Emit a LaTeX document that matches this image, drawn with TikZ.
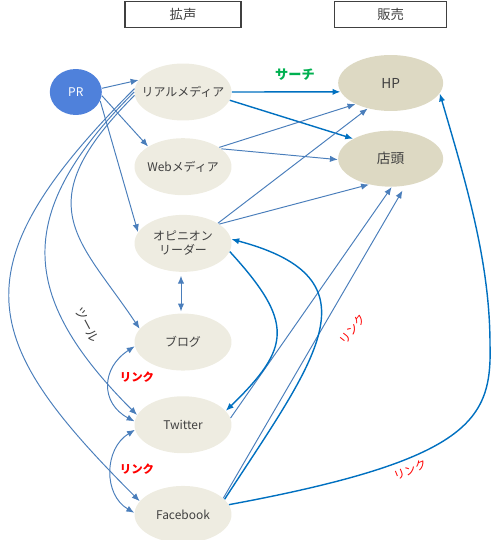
\documentclass[tikz,border=0pt]{standalone}
\usepackage{fontspec}
\setmainfont{Noto Sans CJK JP}
\usepackage{xcolor}
\usepackage{tikz}
\usetikzlibrary{shapes,arrows.meta,positioning}
\definecolor{prblue}{RGB}{79,129,219}
\definecolor{mediafill}{RGB}{238,236,225}
\definecolor{salesfill}{RGB}{221,217,195}
\definecolor{lineblue}{RGB}{74,126,187}
\definecolor{deepblue}{RGB}{0,112,192}
\definecolor{textgray}{RGB}{64,64,64}
\definecolor{searchgreen}{RGB}{0,176,80}
\definecolor{linkred}{RGB}{255,0,0}

\begin{document}
\begin{tikzpicture}[x=0.02cm, y=-0.02cm, font=\fontsize{6.8}{8}\selectfont,
    media/.style={ellipse, fill=mediafill, text=textgray, minimum width=1.94cm, minimum height=1.14cm, inner xsep=-8pt, inner ysep=0pt, align=center},
    sales/.style={ellipse, fill=salesfill, text=textgray, minimum width=2.1cm, minimum height=1.12cm, inner sep=0pt, font=\fontsize{7.8}{9}\selectfont},
    header/.style={rectangle, draw=textgray, line width=0.6pt, text=textgray, minimum height=0.52cm, font=\fontsize{7.6}{9}\selectfont},
    flow/.style={draw=lineblue, line width=0.55pt, -{Latex[length=4.5pt,width=3.6pt]}},
    twoway/.style={flow, {Latex[length=4.5pt,width=3.6pt]}-{Latex[length=4.5pt,width=3.6pt]}},
    strong/.style={flow, draw=deepblue, line width=0.8pt},
    linktext/.style={text=linkred, font=\fontsize{6.5}{8}\selectfont\bfseries}]
        \useasboundingbox (0,0) rectangle (492,540);

        \node[media] (real) at (183,92) {リアルメディア};
        \node[ellipse, fill=prblue, text=white, minimum width=1.04cm, minimum height=0.92cm, inner sep=0pt, left=0.64cm of real] (pr) {PR};
        \node[media, below=0.34cm of real] (web) {Webメディア};
        \node[media, below=0.38cm of web] (op) {オピニオン\\リーダー};
        \node[media, below=0.82cm of op] (blog) {ブログ};
        \node[media, below=0.5cm of blog] (tw) {Twitter};
        \node[media, below=0.64cm of tw] (fb) {Facebook};
        \node[sales, right=2.12cm of real, yshift=0.18cm] (hp) {HP};
        \node[sales, below=0.38cm of hp] (shop) {店頭};
        \node[header, minimum width=2.32cm, above=0.7cm of real] (spread) {拡声};
        \node[header, minimum width=2.24cm, above=0.54cm of hp] (sell) {販売};
        \coordinate (hpbend) at (490,345);

        \draw[flow] (pr.8) -- (real.165);
        \draw[flow] (pr.-8) -- (web.150);
        \draw[flow] (pr.-20) -- (op.166);
        \draw[flow] (real.176) .. controls +(-180,180) and +(-160,-160) .. (fb.163);
        \draw[flow] (real.180) .. controls +(-120,120) and +(-120,-120) .. (tw.168);
        \draw[flow] (real.184) .. controls +(-110,110) and +(-60,-90) .. (blog.163);

        \draw[strong] (real.east) -- (hp.190);
        \draw[strong] (real.-10) -- (shop.152);
        \draw[flow] (web.28) -- (hp.211);
        \draw[flow] (web.25) -- (shop.181);
        \draw[flow] (op.30) -- (hp.228);
        \draw[flow] (op.28) -- (shop.230);
        \draw[flow] (tw.8) -- (shop.272);
        \draw[flow, shorten >=3pt] (fb.22) -- (shop.-62);

        \draw[twoway, shorten <=2pt, shorten >=1pt] (op.266) -- (blog.94);
        \draw[twoway] (blog.185) .. controls +(-34,22) and +(-34,-18) .. (tw.176);
        \draw[twoway] (tw.186) .. controls +(-31,19) and +(-31,-18) .. (fb.178);

        \draw[strong] (op.-10) .. controls +(65,71) and +(65,-63) .. (tw.18);
        \draw[strong] (fb.20) .. controls +(91,-140) and +(150,40) .. (op.5);
        \draw[strong] (fb.12) .. controls (470,460) and (492,420) .. (hpbend) .. controls (490,260) and (465,180) .. (hp.-12);

        % labels
        \node[text=searchgreen, font=\fontsize{7.5}{9}\selectfont\bfseries] (search) at (295,75) {サーチ};
        \node[text=textgray, font=\fontsize{7.2}{9}\selectfont, rotate=-62] (tool) at (87,325) {ツール};
        \node[linktext] (link1) at (137,377) {リンク};
        \node[linktext] (link2) at (137,469) {リンク};
        \node[text=linkred, font=\fontsize{6.5}{8}\selectfont, rotate=52] (link3) at (353,329) {リンク};
        \node[text=linkred, font=\fontsize{6.5}{8}\selectfont, rotate=22] (link4) at (410,470) {リンク};
      \end{tikzpicture}
\end{document}
